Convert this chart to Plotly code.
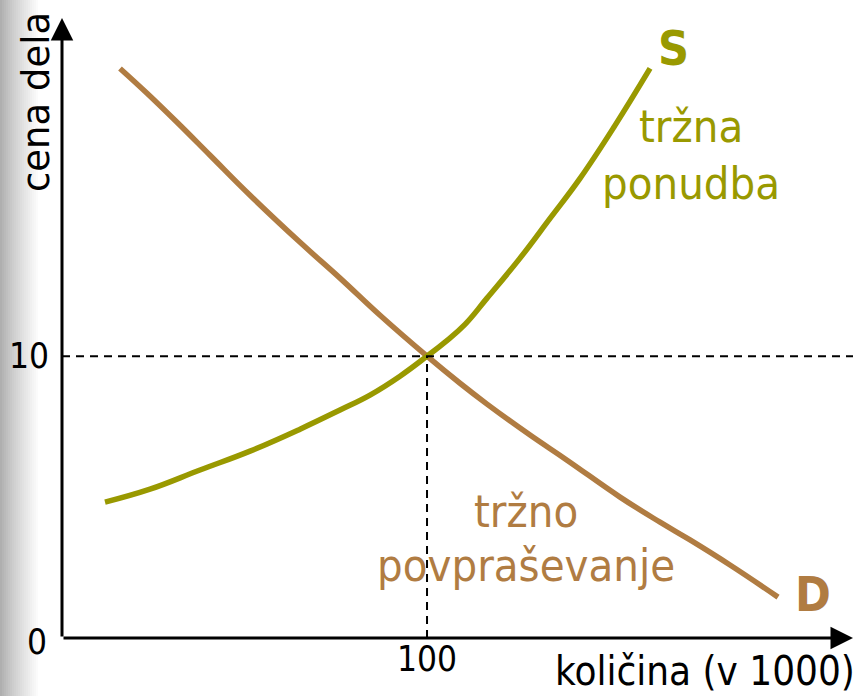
import plotly.graph_objects as go

# ---- data ----
demand_q = [15.89, 23.29, 31.51, 40.55, 51.51, 65.21, 76.16, 87.12, 100.0, 109.04, 116.44,
            128.22, 138.36, 152.88, 163.84, 172.05, 183.01, 196.16]
demand_p = [20.21, 19.33, 18.30, 17.13, 15.71, 14.04, 12.77, 11.45, 10.0, 9.04, 8.30,
            7.20, 6.31, 5.00, 4.11, 3.48, 2.59, 1.45]
supply_q = [11.78, 24.11, 37.81, 51.51, 65.21, 76.16, 84.38, 92.60, 100.0, 104.93, 110.41,
            116.44, 125.48, 133.70, 141.92, 151.51, 161.10]
supply_p = [4.82, 5.28, 5.96, 6.63, 7.41, 8.09, 8.62, 9.29, 10.0, 10.50, 11.13,
            12.06, 13.48, 14.89, 16.31, 18.19, 20.21]
eq_q = 100
eq_p = 10
x_tick_vals = [100]
x_tick_text = ["100"]
y_tick_vals = [10]
y_tick_text = ["10"]
origin_label = "0"
x_title = "količina (v 1000)"
y_title = "cena dela"
supply_label = "S"
demand_label = "D"
supply_text = ["tržna", "ponudba"]
demand_text = ["tržno", "povpraševanje"]

X_MAX = 216.7
Y_MAX = 22.0

GREEN = "#999900"
BROWN = "#B07C42"
COND = "DejaVu Sans Condensed, DejaVu Sans, sans-serif"

W, H = 861, 696
ML, MR, MT, MB = 62, 8, 18, 58
PW, PH = W - ML - MR, H - MT - MB


def px_x(px):
    return (px - ML) / PW


def px_y(py):
    return (H - MB - py) / PH


fig = go.Figure()
fig.add_trace(go.Scatter(x=demand_q, y=demand_p, mode="lines",
                         line=dict(color=BROWN, width=5.5, shape="spline", smoothing=1.2),
                         hoverinfo="skip", showlegend=False))
fig.add_trace(go.Scatter(x=supply_q, y=supply_p, mode="lines",
                         line=dict(color=GREEN, width=5.5, shape="spline", smoothing=1.2),
                         hoverinfo="skip", showlegend=False))

shapes = []
# grey gradient strip on the left edge
steps = 20
for i in range(steps):
    x0 = i * 40 / steps
    x1 = (i + 1) * 40 / steps
    g = int(175 + (255 - 175) * (i / (steps - 1)) ** 0.85)
    shapes.append(dict(type="rect", xref="paper", yref="paper",
                       x0=px_x(x0), x1=px_x(x1 + 0.5), y0=px_y(H), y1=px_y(0),
                       fillcolor=f"rgb({g},{g},{g})", line=dict(width=0), layer="below"))
# dashed guide lines
shapes.append(dict(type="line", xref="x", yref="y", x0=0, x1=X_MAX, y0=eq_p, y1=eq_p,
                   line=dict(color="black", width=2, dash="8px,6px")))
shapes.append(dict(type="line", xref="x", yref="y", x0=eq_q, x1=eq_q, y0=0, y1=eq_p,
                   line=dict(color="black", width=2, dash="8px,6px")))

ann = []
# axes with arrows
ann.append(dict(x=X_MAX, y=0, ax=0, ay=0, xref="x", yref="y", axref="x", ayref="y",
                showarrow=True, arrowhead=2, arrowwidth=3, arrowsize=1.5, arrowcolor="black", text=""))
ann.append(dict(x=0, y=Y_MAX, ax=0, ay=0, xref="x", yref="y", axref="x", ayref="y",
                showarrow=True, arrowhead=2, arrowwidth=3, arrowsize=1.5, arrowcolor="black", text=""))

# tick labels
for v, t in zip(x_tick_vals, x_tick_text):
    ann.append(dict(x=v, y=px_y(659), xref="x", yref="paper", text=t, showarrow=False,
                    xanchor="center", yanchor="middle", font=dict(family=COND, size=35, color="black")))
for v, t in zip(y_tick_vals, y_tick_text):
    ann.append(dict(x=px_x(51), y=v, xref="paper", yref="y", text=t, showarrow=False,
                    xanchor="right", yanchor="middle", font=dict(family=COND, size=35, color="black")))
ann.append(dict(x=px_x(49), y=px_y(642), xref="paper", yref="paper", text=origin_label, showarrow=False,
                xanchor="right", yanchor="middle", font=dict(family=COND, size=35, color="black")))

# axis titles
ann.append(dict(x=px_x(857), y=px_y(671), xref="paper", yref="paper", text=x_title, showarrow=False,
                xanchor="right", yanchor="middle", font=dict(family=COND, size=40, color="black")))
ann.append(dict(x=px_x(36), y=px_y(102), xref="paper", yref="paper", text=y_title, showarrow=False,
                textangle=-90, xanchor="center", yanchor="middle",
                font=dict(family="DejaVu Sans, sans-serif", size=37, color="black")))

# curve labels
ann.append(dict(x=px_x(673), y=px_y(48), xref="paper", yref="paper", text=f"<b>{supply_label}</b>",
                showarrow=False, xanchor="center", yanchor="middle",
                font=dict(family=COND, size=48, color=GREEN)))
ann.append(dict(x=px_x(813), y=px_y(594), xref="paper", yref="paper", text=f"<b>{demand_label}</b>",
                showarrow=False, xanchor="center", yanchor="middle",
                font=dict(family=COND, size=48, color=BROWN)))
ann.append(dict(x=px_x(691), y=px_y(127), xref="paper", yref="paper", text=supply_text[0],
                showarrow=False, xanchor="center", yanchor="middle", font=dict(family=COND, size=45, color=GREEN)))
ann.append(dict(x=px_x(691), y=px_y(184), xref="paper", yref="paper", text=supply_text[1],
                showarrow=False, xanchor="center", yanchor="middle", font=dict(family=COND, size=45, color=GREEN)))
ann.append(dict(x=px_x(526), y=px_y(511), xref="paper", yref="paper", text=demand_text[0],
                showarrow=False, xanchor="center", yanchor="middle", font=dict(family=COND, size=45, color=BROWN)))
ann.append(dict(x=px_x(526), y=px_y(565), xref="paper", yref="paper", text=demand_text[1],
                showarrow=False, xanchor="center", yanchor="middle", font=dict(family=COND, size=45, color=BROWN)))

fig.update_layout(
    width=W, height=H,
    margin=dict(l=ML, r=MR, t=MT, b=MB),
    paper_bgcolor="white", plot_bgcolor="white",
    xaxis=dict(range=[0, X_MAX], showgrid=False, zeroline=False, showticklabels=False,
               showline=False, ticks="", fixedrange=True),
    yaxis=dict(range=[0, Y_MAX], showgrid=False, zeroline=False, showticklabels=False,
               showline=False, ticks="", fixedrange=True),
    shapes=shapes, annotations=ann, showlegend=False,
)

fig.write_html("out.html", config={"displayModeBar": False},
               post_script="document.body.style.margin='0px';document.body.style.overflow='hidden';")
